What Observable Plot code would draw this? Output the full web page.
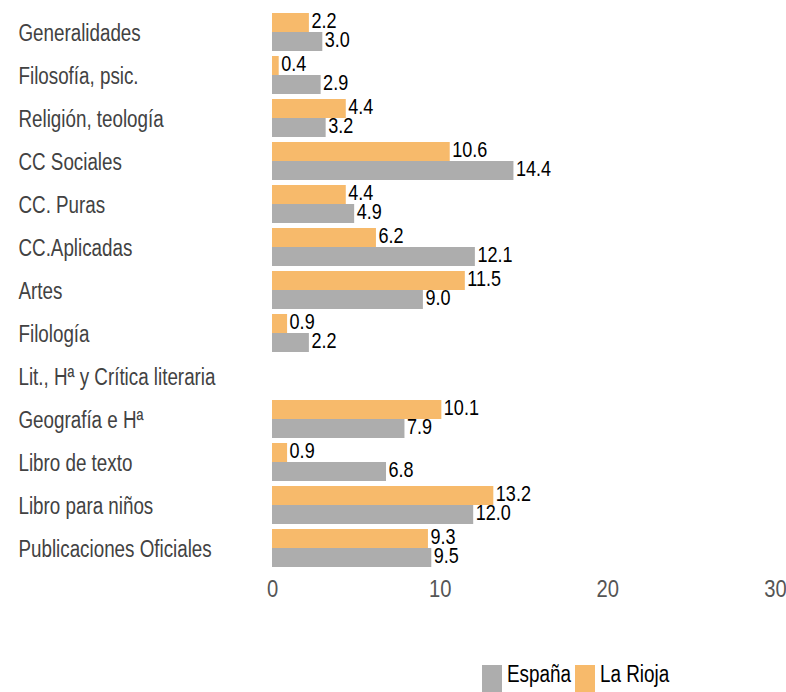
<!DOCTYPE html>
<html><head><meta charset="utf-8">
<script src="https://cdn.jsdelivr.net/npm/d3@7"></script>
<script src="https://cdn.jsdelivr.net/npm/@observablehq/plot@0.6"></script>
<style>
body{margin:0;background:#fff;font-family:"Liberation Sans",Arial,sans-serif;position:relative;width:786px;height:692px;overflow:hidden}
#legend{position:absolute;top:665px;left:482px;display:flex;align-items:flex-start;font-size:23px;color:#000}
#legend .sw{width:20px;height:30px;margin-right:5px;flex:none}
#legend .t{display:inline-block;margin-top:-4px;line-height:1.15;transform-origin:left center;white-space:nowrap}
</style></head>
<body><div id="chart"></div><div id="legend"></div>
<script>
const categories = ["Generalidades","Filosofía, psic.","Religión, teología","CC Sociales","CC. Puras","CC.Aplicadas","Artes","Filología","Lit., Hª y Crítica literaria","Geografía e Hª","Libro de texto","Libro para niños","Publicaciones Oficiales"];
const espana = [3.0, 2.9, 3.2, 14.4, 4.9, 12.1, 9.0, 2.2, null, 7.9, 6.8, 12.0, 9.5];
const rioja  = [2.2, 0.4, 4.4, 10.6, 4.4, 6.2, 11.5, 0.9, null, 10.1, 0.9, 13.2, 9.3];
const series = ["La Rioja","España"];
const seriesColors = ["#F7BA6B","#ADADAD"];
const xTicks = [0,10,20,30];

const rows = categories.flatMap((c,i) => [
  {cat:c, serie:"La Rioja", v:rioja[i]},
  {cat:c, serie:"España", v:espana[i]}
]).filter(d => d.v != null);

const font = '"Liberation Sans",Arial,sans-serif';
const chart = Plot.plot({
  width:786, height:640,
  marginLeft:272, marginRight:11, marginTop:9, marginBottom:69,
  style:{fontFamily:font, fontSize:"20px", background:"white"},
  x:{domain:[0,30]},
  fy:{domain:categories, padding:0.113, axis:null},
  y:{domain:series, padding:0, axis:null},
  color:{domain:series, range:seriesColors},
  marks:[
    Plot.axisX({ticks:xTicks, tickSize:0, tickPadding:13, color:"#555", label:null, fontSize:23.5}),
    Plot.barX(rows, {fy:"cat", y:"serie", x:"v", fill:"serie"}),
    Plot.text(rows, {fy:"cat", y:"serie", x:"v", text:d => d.v.toFixed(1), textAnchor:"start", dx:2, dy:-2, fill:"black", fontSize:22}),
    Plot.text(categories, {fy:d => d, text:d => d, frameAnchor:"left", textAnchor:"start", dx:-254, dy:1, fill:"#424242", fontSize:23.5})
  ]
});
document.getElementById("chart").append(chart);

// narrow the type (reference uses a condensed face): scale around each text's anchor point
chart.querySelectorAll("text").forEach(t => {
  const a = t.closest("[text-anchor]");
  const anchor = a ? a.getAttribute("text-anchor") : "start";
  const fs = parseFloat(getComputedStyle(t).fontSize);
  const s = fs >= 23 ? (anchor === "middle" ? 0.86 : 0.8) : 0.82;
  let tr = t.getAttribute("transform") || "";
  if (!tr) {
    const x = t.getAttribute("x"), y = t.getAttribute("y");
    const num = v => v != null && /^-?[\d.]+$/.test(v);
    if (num(x)) { tr += ` translate(${+x},0)`; t.removeAttribute("x"); }
    if (num(y)) { tr += ` translate(0,${+y})`; t.removeAttribute("y"); }
  }
  t.setAttribute("transform", `${tr} scale(${s},1)`.trim());
});

const legendOrder = ["España","La Rioja"];
const leg = document.getElementById("legend");
legendOrder.forEach(s => {
  const sw = document.createElement("div"); sw.className = "sw";
  sw.style.background = seriesColors[series.indexOf(s)];
  const t = document.createElement("span"); t.className = "t"; t.textContent = s;
  leg.append(sw, t);
  const w = t.offsetWidth;
  t.style.transform = "scaleX(0.82)";
  t.style.marginRight = (-(1 - 0.82) * w + 4) + "px";
});
</script></body></html>
